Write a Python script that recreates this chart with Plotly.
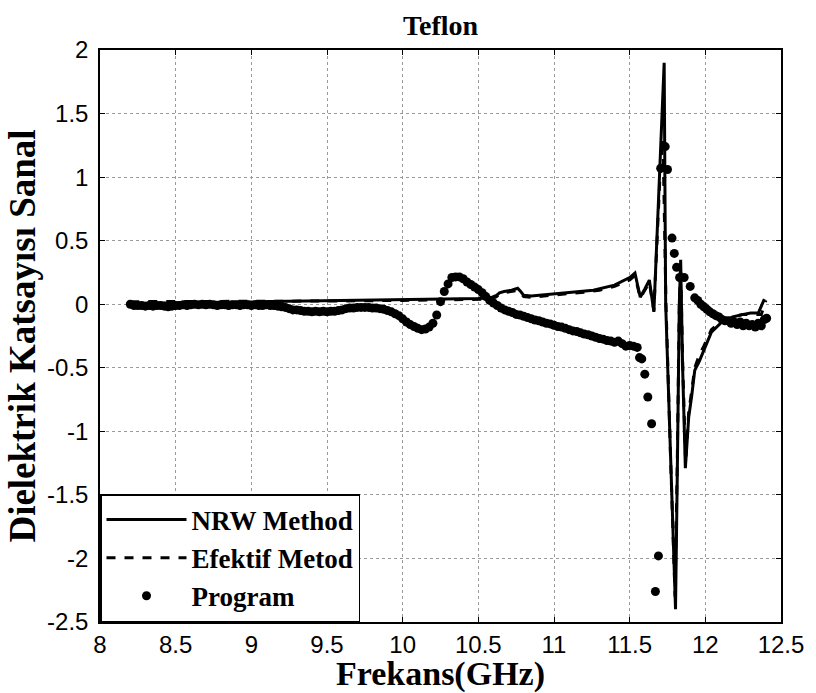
import plotly.graph_objects as go

# ---------------- data ----------------
nrw_freq = [8.20, 8.50, 9.00, 9.50, 9.80, 10.00, 10.30, 10.50, 10.58, 10.62, 10.64, 10.67,
            10.72, 10.76, 10.78, 10.80, 10.85, 10.90, 11.00, 11.10, 11.26, 11.40, 11.50,
            11.535, 11.57, 11.60, 11.63, 11.66, 11.695, 11.728, 11.738, 11.77, 11.803,
            11.815, 11.828, 11.837, 11.85, 11.868, 11.88, 11.89, 11.91, 11.93, 11.96,
            11.99, 12.04, 12.11, 12.18, 12.25, 12.30, 12.35, 12.39]
nrw_vals = [0.005, 0.01, 0.015, 0.025, 0.03, 0.035, 0.04, 0.045, 0.05, 0.07, 0.09, 0.10,
            0.11, 0.125, 0.10, 0.07, 0.065, 0.07, 0.085, 0.095, 0.11, 0.15, 0.21,
            0.245, 0.055, 0.12, 0.19, -0.06, 0.95, 1.90, 0.0, -1.2, -2.40,
            -1.3, 0.0, 0.35, -0.5, -1.29, -1.07, -0.89, -0.72, -0.52, -0.45,
            -0.36, -0.22, -0.14, -0.10, -0.08, -0.07, -0.07, 0.04]

eff_freq = [8.20, 8.50, 9.00, 9.50, 10.00, 10.50, 10.58, 10.62, 10.64, 10.67, 10.72, 10.76,
            10.78, 10.80, 10.85, 10.90, 11.00, 11.10, 11.20, 11.30, 11.40, 11.50, 11.535,
            11.57, 11.60, 11.63, 11.66, 11.70, 11.72, 11.74, 11.77, 11.80, 11.815, 11.828,
            11.837, 11.85, 11.87, 11.88, 11.89, 11.91, 11.93, 11.96, 11.99, 12.04, 12.11,
            12.18, 12.25, 12.30, 12.37, 12.40]
eff_vals = [0.02, 0.02, 0.025, 0.025, 0.03, 0.035, 0.04, 0.06, 0.08, 0.09, 0.10, 0.11,
            0.09, 0.06, 0.055, 0.06, 0.075, 0.085, 0.095, 0.11, 0.14, 0.19, 0.225,
            0.05, 0.11, 0.17, -0.05, 1.0, 1.3, 0.0, -1.2, -2.3, -1.2, 0.0,
            0.3, -0.45, -1.25, -1.03, -0.85, -0.68, -0.50, -0.40, -0.33, -0.20, -0.13,
            -0.10, -0.08, -0.08, -0.08, 0.03]

prog_freq = [8.200, 8.225, 8.250, 8.275, 8.300, 8.325, 8.350, 8.375, 8.400, 8.425, 8.450,
             8.475, 8.500, 8.525, 8.550, 8.575, 8.600, 8.625, 8.650, 8.675, 8.700, 8.725,
             8.750, 8.775, 8.800, 8.825, 8.850, 8.875, 8.900, 8.925, 8.950, 8.975, 9.000,
             9.025, 9.050, 9.075, 9.100, 9.125, 9.150, 9.175, 9.200, 9.225, 9.250, 9.275,
             9.300, 9.325, 9.350, 9.375, 9.400, 9.425, 9.450, 9.475, 9.500, 9.525, 9.550,
             9.575, 9.600, 9.625, 9.650, 9.675, 9.700, 9.725, 9.750, 9.775, 9.800, 9.825,
             9.850, 9.875, 9.900, 9.925, 9.950, 9.975, 10.000, 10.025, 10.050, 10.075,
             10.100, 10.125, 10.150, 10.175, 10.200, 10.225, 10.250, 10.275, 10.300,
             10.325, 10.350, 10.375, 10.400, 10.425, 10.450, 10.475, 10.500, 10.525,
             10.550, 10.575, 10.600, 10.625, 10.650, 10.675, 10.700, 10.725, 10.750,
             10.775, 10.800, 10.825, 10.850, 10.875, 10.900, 10.925, 10.950, 10.975,
             11.000, 11.025, 11.050, 11.075, 11.100, 11.125, 11.150, 11.175, 11.200,
             11.225, 11.250, 11.275, 11.300, 11.325, 11.350, 11.375, 11.400, 11.425,
             11.450, 11.475, 11.500, 11.525, 11.550, 11.565, 11.580, 11.600, 11.620,
             11.645, 11.670, 11.690, 11.705, 11.735, 11.750, 11.780, 11.795, 11.810,
             11.830, 11.860, 11.900, 11.930, 11.950, 11.970, 11.990, 12.010, 12.030,
             12.050, 12.070, 12.090, 12.110, 12.130, 12.150, 12.170, 12.190, 12.210,
             12.230, 12.250, 12.270, 12.290, 12.310, 12.330, 12.350, 12.370, 12.390, 12.405]
prog_vals = [0.0, -0.01, -0.01, -0.01, -0.015, -0.01, -0.015, -0.01, -0.01, -0.015, -0.02,
             -0.015, -0.01, -0.01, -0.005, -0.01, -0.005, 0.0, -0.005, 0.0, -0.005, 0.0,
             -0.005, -0.01, -0.005, -0.005, -0.01, -0.005, -0.005, -0.01, -0.005, -0.005, -0.01,
             -0.005, -0.01, -0.01, -0.005, -0.01, -0.01, -0.015, -0.02, -0.025, -0.035, -0.045,
             -0.045, -0.05, -0.055, -0.055, -0.06, -0.055, -0.06, -0.055, -0.06, -0.055, -0.055,
             -0.05, -0.045, -0.035, -0.03, -0.03, -0.025, -0.025, -0.025, -0.025, -0.03, -0.03,
             -0.035, -0.04, -0.05, -0.06, -0.075, -0.09, -0.115, -0.14, -0.16, -0.175,
             -0.19, -0.20, -0.195, -0.18, -0.15, -0.085, 0.02, 0.10, 0.16,
             0.21, 0.215, 0.215, 0.20, 0.175, 0.155, 0.135, 0.115, 0.09,
             0.06, 0.03, 0.01, -0.01, -0.03, -0.045, -0.055, -0.065, -0.08,
             -0.085, -0.095, -0.105, -0.115, -0.125, -0.13, -0.14, -0.15, -0.155,
             -0.165, -0.175, -0.18, -0.19, -0.20, -0.21, -0.215, -0.225, -0.235,
             -0.24, -0.25, -0.26, -0.27, -0.275, -0.285, -0.29, -0.30, -0.29,
             -0.31, -0.33, -0.325, -0.33, -0.34, -0.42, -0.43, -0.55, -0.73,
             -0.94, -2.26, -1.98, 1.07, 1.24, 1.06, 0.52, 0.40, 0.29,
             0.21, 0.21, 0.14, 0.05, 0.03, 0.0, -0.02, -0.04, -0.06,
             -0.075, -0.09, -0.10, -0.12, -0.13, -0.13, -0.15, -0.14, -0.16,
             -0.14, -0.17, -0.15, -0.17, -0.16, -0.18, -0.15, -0.17, -0.12, -0.11]

x_ticks = [8, 8.5, 9, 9.5, 10, 10.5, 11, 11.5, 12, 12.5]
x_ticktext = ["8", "8.5", "9", "9.5", "10", "10.5", "11", "11.5", "12", "12.5"]
y_ticks = [-2.5, -2, -1.5, -1, -0.5, 0, 0.5, 1, 1.5, 2]
y_ticktext = ["-2.5", "-2", "-1.5", "-1", "-0.5", "0", "0.5", "1", "1.5", "2"]

series_names = ["NRW Method", "Efektif Metod", "Program"]
title_text = "Teflon"
x_title = "Frekans(GHz)"
y_title = "Dielektrik Katsayısı Sanal"

SERIF = "Liberation Serif"
SANS = "Liberation Sans"

fig = go.Figure()
fig.add_trace(go.Scatter(x=nrw_freq, y=nrw_vals, mode="lines", name="<b>" + series_names[0] + "</b>",
                         line=dict(color="black", width=3)))
fig.add_trace(go.Scatter(x=eff_freq, y=eff_vals, mode="lines", name="<b>" + series_names[1] + "</b>",
                         line=dict(color="black", width=3, dash="dash")))
fig.add_trace(go.Scatter(x=prog_freq, y=prog_vals, mode="markers", name="<b>" + series_names[2] + "</b>",
                         marker=dict(color="black", size=9)))

axis_common = dict(
    showgrid=True, gridcolor="#9a9a9a", griddash="dot", gridwidth=1,
    showline=True, linecolor="black", linewidth=1.5, mirror="ticks",
    ticks="inside", ticklen=5, tickcolor="black", tickwidth=1,
    zeroline=False, tickfont=dict(family=SANS, size=24, color="black"),
)

fig.update_layout(
    width=816, height=693,
    margin=dict(l=100, r=26, t=50, b=70),
    paper_bgcolor="white", plot_bgcolor="white",
    title=dict(text="<b>" + title_text + "</b>", x=0.5, xref="paper", xanchor="center",
               y=1 - 25 / 693, yref="container", yanchor="middle",
               font=dict(family=SERIF, size=28, color="black")),
    xaxis=dict(range=[8, 12.5], tickvals=x_ticks, ticktext=x_ticktext,
               title=dict(text="<b>" + x_title + "</b>", standoff=0,
                          font=dict(family=SERIF, size=34, color="black")),
               **axis_common),
    yaxis=dict(range=[-2.5, 2], tickvals=y_ticks, ticktext=y_ticktext,
               ticklabelstandoff=5,
               title=dict(text="<b>" + y_title + "</b>", standoff=0,
                          font=dict(family=SERIF, size=37, color="black")),
               **axis_common),
    legend=dict(x=0, y=0, xanchor="left", yanchor="bottom",
                bgcolor="white", bordercolor="black", borderwidth=1.5,
                itemwidth=80, tracegroupgap=0,
                font=dict(family=SERIF, size=27, color="black")),
    showlegend=True,
)

fig.write_html("out.html")
